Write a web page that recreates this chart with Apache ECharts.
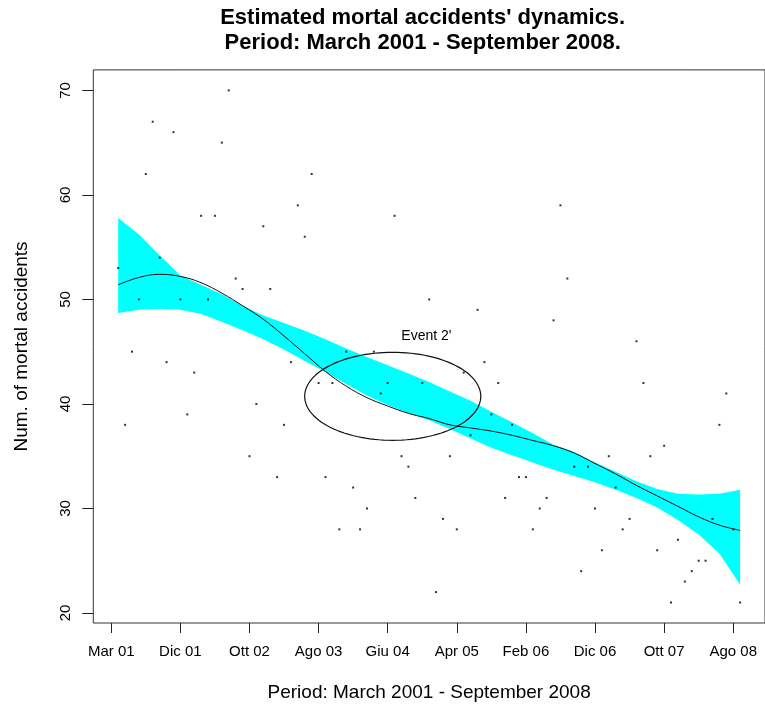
<!DOCTYPE html>
<html>
<head>
<meta charset="utf-8">
<script src="https://cdn.jsdelivr.net/npm/echarts@6/dist/echarts.min.js"></script>
<style>
html,body{margin:0;padding:0;background:#fff;}
#chart{width:765px;height:707px;}
</style>
</head>
<body>
<div id="chart"></div>
<script>
// ---- Data (month index 1 = March 2001 ... 91 = September 2008) ----
const xTickValues = [0, 10, 20, 30, 40, 50, 60, 70, 80, 90];
const xTickLabels = ['Mar 01', 'Dic 01', 'Ott 02', 'Ago 03', 'Giu 04', 'Apr 05', 'Feb 06', 'Dic 06', 'Ott 07', 'Ago 08'];
const yTickValues = [20, 30, 40, 50, 60, 70];

// monthly number of mortal accidents
const accidents = [
  53, 38, 45, 50, 62, 67, 54, 44, 66, 50,
  39, 43, 58, 50, 58, 65, 70, 52, 51, 35,
  40, 57, 51, 33, 38, 44, 59, 56, 62, 42,
  33, 42, 28, 45, 32, 28, 30, 45, 41, 42,
  58, 35, 34, 31, 42, 50, 22, 29, 35, 28,
  43, 37, 49, 44, 39, 42, 31, 38, 33, 33,
  28, 30, 31, 48, 59, 52, 34, 24, 34, 30,
  26, 35, 32, 28, 29, 46, 42, 35, 26, 36,
  21, 27, 23, 24, 25, 25, 29, 38, 41, 28, 21
];

// estimated dynamics (smooth curve) and band, read at these month indices
const fitX = [1, 4, 7, 10, 13, 16, 19, 22, 25, 28, 31, 34, 37, 40, 43, 46, 49, 52, 55, 58, 61, 64, 67, 70, 73, 76, 79, 82, 85, 88, 91];
const fitLine = [51.4, 52.1, 52.4, 52.2, 51.6, 50.6, 49.4, 48.1, 46.5, 44.8, 43.1, 41.7, 40.6, 39.8, 39.1, 38.6, 38.0, 37.7, 37.4, 37.0, 36.5, 36.0, 35.3, 34.3, 33.3, 32.2, 31.2, 30.2, 29.2, 28.4, 27.9];
const bandUpper = [57.8, 56.2, 54.2, 52.3, 51.4, 50.5, 49.4, 48.45, 47.75, 47.0, 46.2, 45.3, 44.5, 43.7, 42.9, 42.1, 41.2, 40.3, 39.25, 38.25, 37.2, 36.1, 35.4, 34.4, 33.5, 32.6, 31.85, 31.4, 31.33, 31.4, 31.8];
const bandLower = [48.7, 49.0, 49.1, 49.0, 48.6, 47.86, 47.06, 46.2, 45.2, 44.1, 43.05, 41.9, 40.8, 39.9, 39.1, 38.45, 37.6, 36.7, 35.8, 35.1, 34.4, 33.7, 33.1, 32.5, 31.8, 31.0, 30.1, 28.9, 27.5, 25.7, 22.7];

// annotation
const eventCenter = [40.73, 40.73];
const eventRadii = [12.74, 4.21];
const eventLabel = "Event 2'";
const eventLabelPos = [45.6, 46.5];

const FONT = "'Liberation Sans', Arial, Helvetica, sans-serif";

const chart = echarts.init(document.getElementById('chart'), null, {renderer: 'canvas'});

const option = {
  animation: false,
  backgroundColor: '#ffffff',
  title: {
    text: "Estimated mortal accidents' dynamics.\nPeriod: March 2001 - September 2008.",
    left: 422.7,
    top: 5.5,
    padding: 0,
    textAlign: 'center',
    textStyle: {fontFamily: FONT, fontSize: 22, fontWeight: 'bold', color: '#000', lineHeight: 25}
  },
  grid: {
    left: 93.3, top: 69.9, width: 675, height: 555.2,
    show: true, borderColor: '#333', borderWidth: 1, backgroundColor: 'transparent',
    containLabel: false
  },
  xAxis: {
    type: 'value',
    min: -2.6, max: 94.6,
    splitLine: {show: false},
    axisLine: {show: false, onZero: false},
    axisTick: {show: true, customValues: xTickValues, length: 10, lineStyle: {color: '#222', width: 1}},
    axisLabel: {
      customValues: xTickValues,
      formatter: function (v) { const k = xTickValues.indexOf(v); return k >= 0 ? xTickLabels[k] : ''; },
      margin: 21, fontFamily: FONT, fontSize: 15, color: '#000'
    },
    name: 'Period: March 2001 - September 2008',
    nameLocation: 'middle',
    nameGap: 60,
    nameTextStyle: {fontFamily: FONT, fontSize: 19, color: '#000'}
  },
  yAxis: {
    type: 'value',
    min: 19.04, max: 71.96,
    splitLine: {show: false},
    axisLine: {show: false, onZero: false},
    axisTick: {show: true, customValues: yTickValues, length: 11, lineStyle: {color: '#222', width: 1}},
    axisLabel: {
      customValues: yTickValues,
      rotate: 90,
      margin: 20, fontFamily: FONT, fontSize: 15, color: '#000'
    },
    name: 'Num. of mortal accidents',
    nameLocation: 'middle',
    nameRotate: 90,
    nameGap: 62,
    nameTextStyle: {fontFamily: FONT, fontSize: 19, color: '#000'}
  },
  series: [
    {
      name: 'band',
      type: 'custom',
      coordinateSystem: 'cartesian2d',
      silent: true,
      data: fitX.map((x, k) => [x, bandLower[k], bandUpper[k]]),
      encode: {x: 0, y: [1, 2]},
      renderItem: function (params, api) {
        if (params.dataIndex !== 0) return null;
        const pts = [];
        for (let k = 0; k < fitX.length; k++) pts.push(api.coord([fitX[k], bandUpper[k]]));
        for (let k = fitX.length - 1; k >= 0; k--) pts.push(api.coord([fitX[k], bandLower[k]]));
        return {type: 'polygon', shape: {points: pts}, style: {fill: '#00FFFF', stroke: null}};
      },
      z: 1
    },
    {
      name: 'accidents',
      type: 'scatter',
      symbol: 'rect',
      symbolSize: 2,
      itemStyle: {color: '#000'},
      data: accidents.map((v, k) => [k + 1, v]),
      z: 2
    },
    {
      name: 'trend',
      type: 'line',
      smooth: 0.4,
      showSymbol: false,
      symbol: 'none',
      lineStyle: {color: '#111', width: 1},
      data: fitX.map((x, k) => [x, fitLine[k]]),
      z: 3
    },
    {
      name: 'event',
      type: 'custom',
      coordinateSystem: 'cartesian2d',
      silent: true,
      data: [[eventCenter[0], eventCenter[1]]],
      renderItem: function (params, api) {
        const c = api.coord(eventCenter);
        const rx = api.size([eventRadii[0], 0])[0];
        const ry = api.size([0, eventRadii[1]])[1];
        const pts = [];
        for (let a = 0; a < 120; a++) {
          const t = a / 120 * Math.PI * 2;
          pts.push([c[0] + rx * Math.cos(t), c[1] + ry * Math.sin(t)]);
        }
        const lp = api.coord(eventLabelPos);
        return {
          type: 'group',
          children: [
            {type: 'polygon', shape: {points: pts}, style: {fill: null, stroke: '#111', lineWidth: 1.2}},
            {type: 'text', x: lp[0], y: lp[1], style: {text: eventLabel, fontFamily: FONT, fontSize: 14, fill: '#000', align: 'center', verticalAlign: 'middle'}}
          ]
        };
      },
      z: 4
    }
  ]
};
chart.setOption(option);
</script>
</body>
</html>
